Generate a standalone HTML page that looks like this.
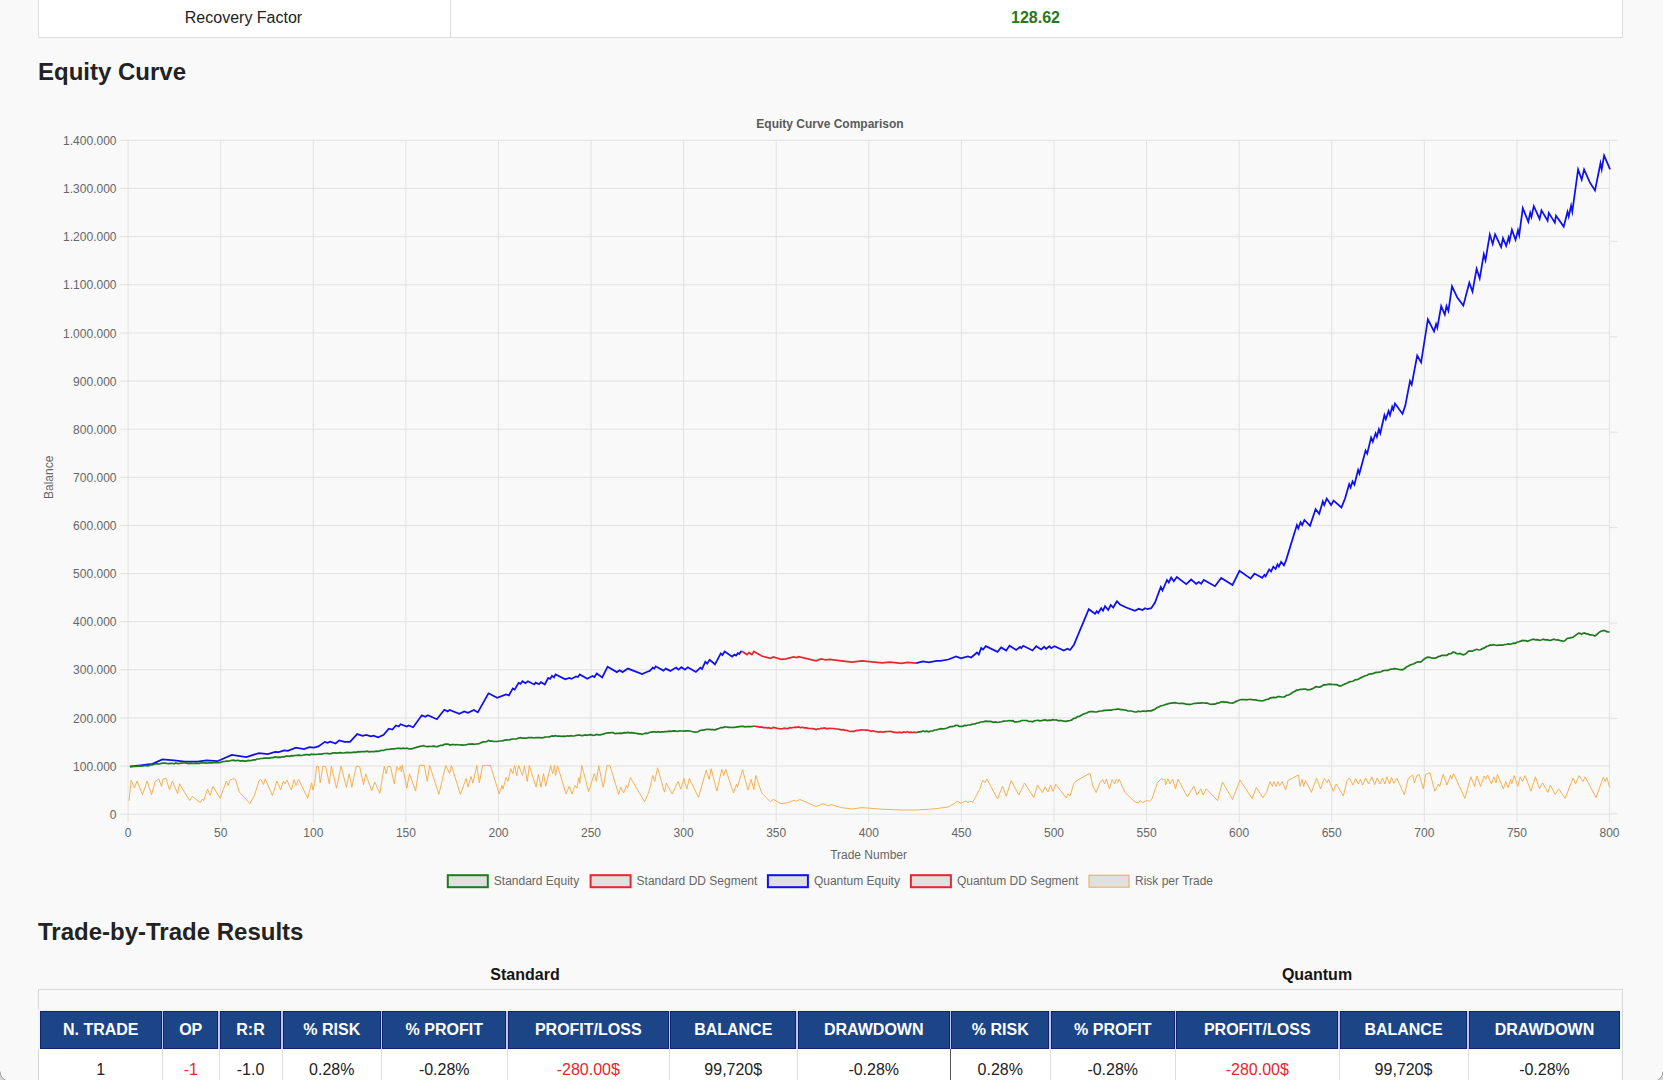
<!DOCTYPE html>
<html><head><meta charset="utf-8"><title>Equity Curve</title>
<style>
html,body{margin:0;padding:0}
body{width:1663px;height:1080px;overflow:hidden;background:#f9f9f9;font-family:"Liberation Sans",sans-serif;color:#222;position:relative}
.abs{position:absolute}
.toptbl{position:absolute;left:37.5px;top:-10px;width:1585px;height:47.5px;background:#fff;border:1px solid #ddd;box-sizing:border-box}
.toptbl .div{position:absolute;left:411px;top:0;width:1px;height:100%;background:#ddd}
.c1{position:absolute;left:38px;width:411px;top:9px;text-align:center;font-size:16px;line-height:18px;color:#222}
.c2{position:absolute;left:449px;width:1173px;top:9px;text-align:center;font-size:16px;line-height:18px;font-weight:bold;color:#1f7a1f}
h2{position:absolute;margin:0;left:38px;font-size:24px;line-height:28px;font-weight:bold;color:#222;white-space:nowrap}
.chart{position:absolute;left:0;top:0}
.lab{position:absolute;font-size:16px;line-height:18px;font-weight:bold;color:#151515;text-align:center;width:200px}
.cont{position:absolute;left:37.5px;top:988.5px;width:1585px;height:120px;border:1.5px solid #d8d8d8;box-sizing:border-box;background:#f9f9f9}
.hdrbg{position:absolute;left:37.5px;top:1008.8px;width:1583.6px;height:40.5px;background:#f3f2fd}
.th{position:absolute;top:1011.2px;height:37.4px;background:#1c4587;border:1px solid #10246b;box-sizing:border-box;color:#fff;font-weight:bold;font-size:16px;line-height:35.8px;text-align:center;white-space:nowrap}
.hs{position:absolute;top:1011.2px;height:37.4px;width:1.6px;background:#c0c5f3}
.rowbg{position:absolute;left:39px;top:1049px;width:1582px;height:40px;background:#fff}
.td{position:absolute;top:1049px;height:40px;font-size:16px;line-height:41px;text-align:center;color:#222;white-space:nowrap}
.td.red{color:#e8262e}
.vb{position:absolute;top:1049px;height:40px}
</style></head><body>
<div class="toptbl"><div class="div"></div></div>
<div class="c1">Recovery Factor</div><div class="c2">128.62</div>
<h2 style="top:58px">Equity Curve</h2>
<svg class="chart" width="1663" height="1080" viewBox="0 0 1663 1080" font-family="Liberation Sans, sans-serif" font-size="12" fill="#666"><path d="M120.1,814.20H1609.5M120.1,766.07H1609.5M120.1,717.94H1609.5M120.1,669.81H1609.5M120.1,621.69H1609.5M120.1,573.56H1609.5M120.1,525.43H1609.5M120.1,477.30H1609.5M120.1,429.17H1609.5M120.1,381.04H1609.5M120.1,332.91H1609.5M120.1,284.79H1609.5M120.1,236.66H1609.5M120.1,188.53H1609.5M120.1,140.40H1609.5M128.10,140.4V822.2M220.69,140.4V822.2M313.27,140.4V822.2M405.86,140.4V822.2M498.45,140.4V822.2M591.04,140.4V822.2M683.62,140.4V822.2M776.21,140.4V822.2M868.80,140.4V822.2M961.39,140.4V822.2M1053.97,140.4V822.2M1146.56,140.4V822.2M1239.15,140.4V822.2M1331.74,140.4V822.2M1424.32,140.4V822.2M1516.91,140.4V822.2M1609.50,140.4V822.2M1609.50,140.4V814.2M1609.5,813.80h8M1609.5,718.40h8M1609.5,623.00h8M1609.5,527.60h8M1609.5,432.20h8M1609.5,336.80h8M1609.5,241.40h8M1609.5,140.40h8" stroke="#e2e2e2" stroke-width="1" fill="none"/><text x="116.5" y="818.8" text-anchor="end">0</text><text x="116.5" y="770.7" text-anchor="end">100.000</text><text x="116.5" y="722.5" text-anchor="end">200.000</text><text x="116.5" y="674.4" text-anchor="end">300.000</text><text x="116.5" y="626.3" text-anchor="end">400.000</text><text x="116.5" y="578.2" text-anchor="end">500.000</text><text x="116.5" y="530.0" text-anchor="end">600.000</text><text x="116.5" y="481.9" text-anchor="end">700.000</text><text x="116.5" y="433.8" text-anchor="end">800.000</text><text x="116.5" y="385.6" text-anchor="end">900.000</text><text x="116.5" y="337.5" text-anchor="end">1.000.000</text><text x="116.5" y="289.4" text-anchor="end">1.100.000</text><text x="116.5" y="241.3" text-anchor="end">1.200.000</text><text x="116.5" y="193.1" text-anchor="end">1.300.000</text><text x="116.5" y="145.0" text-anchor="end">1.400.000</text><text x="128.1" y="837.2" text-anchor="middle">0</text><text x="220.7" y="837.2" text-anchor="middle">50</text><text x="313.3" y="837.2" text-anchor="middle">100</text><text x="405.9" y="837.2" text-anchor="middle">150</text><text x="498.5" y="837.2" text-anchor="middle">200</text><text x="591.0" y="837.2" text-anchor="middle">250</text><text x="683.6" y="837.2" text-anchor="middle">300</text><text x="776.2" y="837.2" text-anchor="middle">350</text><text x="868.8" y="837.2" text-anchor="middle">400</text><text x="961.4" y="837.2" text-anchor="middle">450</text><text x="1054.0" y="837.2" text-anchor="middle">500</text><text x="1146.6" y="837.2" text-anchor="middle">550</text><text x="1239.1" y="837.2" text-anchor="middle">600</text><text x="1331.7" y="837.2" text-anchor="middle">650</text><text x="1424.3" y="837.2" text-anchor="middle">700</text><text x="1516.9" y="837.2" text-anchor="middle">750</text><text x="1609.5" y="837.2" text-anchor="middle">800</text><text x="868.6" y="858.8" text-anchor="middle">Trade Number</text><text transform="translate(53,477.3) rotate(-90)" text-anchor="middle">Balance</text><text x="830" y="127.9" text-anchor="middle" font-weight="bold" fill="#5a5a5a">Equity Curve Comparison</text><path d="M129.0,800.9 L131.2,780.1 L134.4,787.9 L137.1,781.0 L142.5,794.6 L147.1,781.0 L151.6,794.6 L155.2,781.4 L158.8,778.9 L161.5,786.4 L162.9,779.2 L166.0,778.3 L169.6,790.0 L172.3,781.0 L177.7,793.7 L179.5,783.7 L182.2,788.2 L189.5,800.5 L192.2,796.4 L200.3,802.7 L202.1,799.1 L203.9,800.5 L207.5,789.1 L210.2,795.5 L212.9,786.4 L220.1,798.2 L226.4,781.0 L228.2,785.5 L230.0,780.1 L232.7,778.9 L235.5,779.2 L239.1,791.8 L249.9,803.6 L254.4,795.5 L258.9,781.0 L260.7,779.2 L263.4,784.6 L265.2,778.9 L272.4,795.5 L276.9,781.0 L280.6,790.0 L283.3,781.0 L285.1,783.7 L286.9,780.1 L291.4,790.0 L294.1,779.6 L295.9,785.5 L298.6,779.2 L307.6,798.2 L311.6,782.8 L313.0,790.0 L314.8,782.8 L316.6,766.2 L318.4,766.6 L320.2,782.8 L322.9,766.2 L325.7,766.6 L329.3,783.7 L331.4,766.2 L336.5,788.2 L341.0,766.2 L346.4,787.3 L349.1,773.8 L351.8,787.3 L356.3,766.2 L359.6,766.6 L363.5,784.6 L365.7,773.8 L371.7,790.9 L374.7,781.9 L379.8,793.3 L384.3,766.2 L386.1,773.8 L387.9,766.2 L390.6,766.6 L394.2,783.7 L396.9,766.6 L398.7,770.2 L400.5,766.2 L401.4,772.0 L402.3,764.8 L406.8,788.2 L409.5,773.8 L415.6,791.1 L419.4,765.4 L424.3,765.4 L427.2,781.4 L429.6,765.4 L438.9,794.4 L445.7,765.4 L449.6,773.6 L451.5,765.4 L460.3,794.4 L466.1,778.5 L468.0,787.2 L471.0,776.5 L472.9,783.3 L476.8,765.4 L479.3,782.9 L482.6,765.4 L490.4,765.4 L499.2,794.0 L502.1,785.3 L503.0,789.2 L506.0,777.5 L507.9,781.4 L510.8,768.7 L512.8,773.6 L514.7,765.4 L516.7,775.5 L518.6,765.4 L522.5,775.5 L524.4,765.8 L527.3,781.4 L529.3,765.4 L536.1,787.2 L538.4,774.6 L541.0,787.2 L543.5,773.6 L545.8,786.2 L550.7,765.4 L552.6,773.6 L554.6,765.4 L555.5,775.5 L557.5,765.8 L566.2,794.0 L569.2,786.2 L572.1,794.0 L575.0,785.3 L576.9,788.2 L578.9,777.5 L579.8,783.3 L581.8,765.4 L588.6,791.5 L594.4,773.6 L596.4,781.4 L598.7,765.8 L603.2,787.2 L607.1,765.4 L610.0,765.8 L618.7,794.4 L620.7,787.2 L623.6,793.0 L626.5,785.3 L627.5,788.2 L630.4,777.5 L644.6,801.8 L648.9,792.1 L652.8,775.5 L654.7,781.4 L657.6,767.8 L664.4,792.1 L666.4,783.3 L672.2,794.0 L678.0,781.4 L680.9,789.2 L683.9,778.5 L686.8,789.2 L689.3,778.5 L698.5,797.3 L706.2,770.1 L709.2,779.4 L711.1,768.7 L716.9,791.1 L721.8,769.3 L723.7,775.5 L725.7,769.3 L733.5,793.0 L736.4,784.3 L737.4,787.2 L742.6,769.7 L748.0,790.1 L751.0,779.4 L753.9,789.5 L755.8,775.5 L761.7,793.0 L770.4,801.8 L773.3,799.3 L781.1,803.7 L786.0,803.1 L788.9,802.4 L793.7,800.4 L796.7,801.2 L799.6,799.3 L816.1,806.6 L822.9,803.7 L827.8,805.7 L831.7,804.7 L841.4,807.6 L852.1,809.0 L861.8,807.6 L882.2,809.2 L901.6,810.0 L916.2,810.0 L932.8,809.0 L948.3,807.0 L954.1,803.7 L957.1,801.2 L960.9,803.1 L965.8,800.8 L967.8,802.4 L971.2,801.2 L972.5,802.5 L980.0,788.8 L982.5,780.5 L985.0,782.5 L987.0,779.2 L997.5,798.8 L1002.5,786.2 L1006.2,796.2 L1011.2,780.5 L1018.8,795.0 L1024.5,783.0 L1033.8,797.5 L1037.5,785.0 L1042.5,792.5 L1045.0,787.0 L1048.0,792.0 L1050.5,785.0 L1053.0,791.2 L1055.8,784.2 L1066.2,798.0 L1068.0,793.8 L1070.0,796.2 L1073.8,783.8 L1075.8,781.2 L1090.0,773.2 L1092.5,785.0 L1096.2,792.5 L1100.0,782.5 L1102.5,779.5 L1104.5,783.8 L1106.2,779.2 L1109.5,788.8 L1112.0,779.5 L1114.5,783.8 L1116.2,779.2 L1118.0,782.5 L1119.2,779.2 L1125.0,792.5 L1135.0,802.0 L1138.8,803.0 L1140.0,800.5 L1142.5,802.5 L1147.5,800.5 L1149.5,801.2 L1152.0,798.8 L1157.5,782.5 L1161.2,778.8 L1165.0,779.5 L1165.5,785.0 L1168.0,778.8 L1170.0,783.8 L1172.5,779.2 L1175.5,788.8 L1178.0,779.2 L1187.5,797.0 L1193.8,786.2 L1197.0,795.0 L1200.8,788.8 L1203.0,795.0 L1206.2,788.8 L1217.5,800.5 L1222.5,782.0 L1232.5,799.5 L1240.0,780.0 L1252.0,798.4 L1256.4,787.6 L1262.9,797.7 L1266.5,792.4 L1270.1,781.6 L1272.5,786.4 L1273.7,781.6 L1276.1,786.4 L1278.0,781.6 L1279.7,785.7 L1282.1,781.6 L1285.7,790.0 L1288.1,780.4 L1298.4,774.9 L1300.1,786.4 L1302.1,779.2 L1303.7,786.4 L1305.4,780.4 L1311.4,792.4 L1316.5,778.0 L1320.6,788.8 L1324.2,778.5 L1327.1,782.8 L1328.5,779.2 L1333.3,791.2 L1336.2,784.0 L1343.4,796.0 L1347.0,780.4 L1349.4,778.0 L1353.0,785.2 L1355.5,778.5 L1358.3,784.0 L1360.3,779.2 L1362.7,785.2 L1365.6,778.0 L1368.7,784.0 L1371.8,776.8 L1374.7,784.7 L1377.1,778.0 L1380.0,784.0 L1382.4,778.0 L1385.0,784.0 L1386.7,776.8 L1389.6,784.0 L1391.5,777.5 L1393.9,783.3 L1396.8,778.0 L1404.3,794.8 L1408.4,778.0 L1412.7,775.1 L1414.4,782.8 L1416.8,775.6 L1419.2,774.4 L1423.3,788.8 L1425.7,774.4 L1430.0,772.7 L1434.8,791.2 L1438.4,784.0 L1439.6,786.4 L1443.2,774.4 L1446.9,785.2 L1450.5,775.1 L1451.7,779.2 L1453.6,773.7 L1464.9,798.4 L1470.9,776.8 L1474.5,786.4 L1476.9,776.1 L1480.5,786.4 L1484.1,776.1 L1485.8,779.2 L1487.7,775.1 L1491.4,784.0 L1493.8,776.8 L1496.2,782.8 L1497.4,774.4 L1503.4,788.8 L1505.8,781.6 L1508.2,787.6 L1510.6,779.2 L1511.8,784.0 L1514.2,775.6 L1517.8,786.4 L1520.2,776.8 L1522.6,781.6 L1525.0,775.6 L1531.0,791.2 L1535.4,776.8 L1539.5,788.8 L1542.6,782.8 L1547.9,792.4 L1550.3,785.2 L1555.1,794.3 L1558.7,788.8 L1565.2,798.4 L1573.1,778.0 L1575.5,784.0 L1579.1,775.6 L1582.8,781.6 L1585.2,776.8 L1596.0,797.7 L1603.2,777.3 L1605.1,781.6 L1606.8,777.5 L1609.7,787.6" stroke="#f6a83e" stroke-width="0.9" fill="none" stroke-linejoin="miter" stroke-miterlimit="10" stroke-linecap="butt"/><path d="M129.9,766.6 L152.5,763.9 L162.4,759.4 L174.1,760.3 L184.9,761.5 L197.6,761.5 L206.6,760.3 L217.4,761.2 L231.8,754.9 L246.3,757.2 L258.9,753.1 L267.9,754.0 L275.1,751.8 L278.7,752.2 L284.2,750.4 L287.8,750.9 L295.9,747.6 L304.0,749.1 L309.4,747.1 L313.9,747.6 L318.4,746.4 L324.8,741.9 L327.5,742.8 L330.2,741.7 L335.6,743.5 L339.2,740.4 L344.6,741.9 L350.0,741.9 L357.2,734.1 L362.6,735.9 L366.2,735.0 L370.8,736.3 L373.5,735.6 L378.0,737.4 L383.4,735.0 L388.8,728.7 L392.4,729.6 L396.0,725.5 L398.7,726.5 L400.5,724.2 L406.8,726.5 L408.6,725.5 L413.2,727.3 L421.8,715.3 L425.3,716.8 L427.8,715.3 L436.9,719.2 L444.3,709.8 L447.6,711.4 L449.6,710.0 L459.3,713.9 L464.2,711.4 L468.0,712.9 L473.9,710.0 L477.8,712.4 L488.5,693.3 L497.2,697.8 L506.0,694.5 L508.9,695.4 L512.8,688.4 L514.7,689.6 L518.6,682.8 L520.5,683.8 L522.5,681.2 L525.4,683.2 L527.9,681.2 L534.2,684.5 L535.7,682.6 L539.0,684.2 L541.0,682.2 L544.8,684.5 L548.2,677.9 L550.1,678.9 L552.0,675.8 L554.0,677.4 L555.5,674.4 L565.3,679.3 L569.2,677.9 L571.5,678.9 L576.0,676.4 L577.9,677.0 L579.8,674.4 L587.2,678.7 L592.5,676.0 L594.4,677.0 L596.8,673.5 L602.2,677.4 L607.6,666.7 L616.8,672.1 L619.7,670.2 L622.6,672.1 L627.9,668.6 L642.1,674.1 L647.9,671.5 L649.8,670.9 L652.8,667.6 L654.3,668.6 L655.7,666.3 L663.4,670.6 L665.8,668.6 L670.3,670.9 L676.1,667.6 L678.4,669.6 L681.5,667.2 L684.8,669.6 L687.8,667.2 L695.9,671.9 L700.4,667.6 L702.0,669.0 L705.3,661.8 L707.2,663.7 L709.6,659.9 L715.0,664.3 L720.8,653.4 L722.4,655.0 L724.7,651.5 L732.1,656.6 L734.4,654.6 L736.0,655.6 L737.9,653.1 L739.3,654.0 L741.2,651.1" stroke="#1010ee" stroke-width="1.75" fill="none" stroke-linejoin="miter" stroke-miterlimit="10" stroke-linecap="butt"/><path d="M916.2,663.2 L923.0,661.4 L928.9,662.4 L936.6,660.8 L940.5,660.8 L948.3,659.5 L956.1,656.4 L960.9,658.3 L967.8,656.4 L971.2,657.5 L977.0,652.5 L978.8,654.5 L981.2,648.0 L983.0,649.5 L985.8,646.2 L997.5,651.8 L1001.2,647.5 L1006.2,650.5 L1009.5,645.8 L1016.2,650.0 L1020.0,647.0 L1021.2,648.2 L1023.2,645.8 L1032.5,650.5 L1036.2,646.2 L1041.2,649.5 L1044.2,646.8 L1046.2,648.8 L1049.5,646.2 L1051.2,648.2 L1054.5,646.2 L1063.8,650.5 L1067.5,648.8 L1070.0,650.0 L1073.8,645.0 L1088.8,609.2 L1095.0,613.8 L1096.8,611.2 L1098.2,613.0 L1101.2,608.2 L1103.0,610.8 L1105.0,606.2 L1108.2,610.0 L1110.8,605.0 L1113.2,607.5 L1117.0,601.2 L1120.0,604.5 L1126.2,607.5 L1135.0,610.8 L1138.8,608.8 L1142.5,610.0 L1145.0,608.2 L1147.5,609.2 L1151.2,608.2 L1155.0,602.5 L1160.8,587.0 L1162.5,590.5 L1167.0,580.0 L1168.8,582.5 L1171.2,577.5 L1173.8,581.2 L1176.8,577.0 L1186.2,584.2 L1191.2,579.5 L1196.2,583.8 L1198.8,582.0 L1201.2,583.8 L1203.8,580.0 L1215.0,586.2 L1221.2,578.0 L1232.5,585.0 L1239.5,570.8 L1250.6,578.6 L1254.4,573.6 L1262.2,577.8 L1264.4,575.0 L1265.6,576.4 L1269.2,569.4 L1271.1,571.4 L1273.3,566.7 L1275.6,568.9 L1277.5,564.4 L1278.9,566.7 L1281.1,561.9 L1283.9,565.3 L1285.8,561.1 L1296.9,525.0 L1298.3,528.3 L1300.6,522.2 L1302.2,525.0 L1304.4,520.0 L1310.0,525.8 L1315.6,509.2 L1319.2,513.9 L1322.8,501.4 L1324.2,505.0 L1326.7,498.6 L1331.1,505.0 L1333.6,500.6 L1341.4,507.5 L1345.0,498.6 L1349.2,484.2 L1350.6,487.5 L1352.5,481.4 L1354.4,484.7 L1358.1,470.0 L1359.4,473.6 L1365.6,450.6 L1367.2,453.6 L1371.1,437.5 L1372.8,441.7 L1375.6,433.3 L1376.9,436.9 L1378.9,429.2 L1380.3,433.3 L1384.4,415.3 L1385.8,419.4 L1388.6,411.1 L1390.0,415.3 L1392.2,406.9 L1393.3,409.7 L1395.0,403.6 L1402.5,413.9 L1405.3,405.6 L1410.0,381.1 L1411.7,384.7 L1417.2,355.6 L1421.1,362.5 L1427.9,319.3 L1434.0,331.3 L1436.1,324.1 L1437.3,327.7 L1441.2,306.1 L1444.8,314.5 L1446.5,306.1 L1448.4,310.9 L1452.0,286.3 L1457.3,297.6 L1463.3,305.6 L1469.3,282.7 L1472.5,291.6 L1476.6,268.8 L1479.7,278.4 L1483.8,254.3 L1485.5,260.3 L1489.8,234.6 L1492.7,244.0 L1495.1,234.3 L1501.1,247.1 L1503.0,238.2 L1506.2,245.9 L1508.6,237.5 L1509.5,241.1 L1511.9,229.8 L1515.5,239.9 L1518.0,230.3 L1519.2,235.1 L1522.8,208.1 L1528.3,221.8 L1530.2,212.9 L1531.4,217.0 L1533.8,206.2 L1539.6,218.9 L1541.5,210.3 L1547.6,220.6 L1548.8,212.9 L1554.8,222.6 L1556.0,215.8 L1563.7,226.6 L1567.5,211.7 L1568.7,216.5 L1571.1,205.7 L1572.3,211.7 L1578.1,169.4 L1581.7,179.7 L1584.1,169.4 L1589.7,182.1 L1595.0,190.5 L1600.5,163.3 L1601.7,169.4 L1604.1,155.6 L1610.1,169.4" stroke="#1010ee" stroke-width="1.75" fill="none" stroke-linejoin="miter" stroke-miterlimit="10" stroke-linecap="butt"/><path d="M741.2,651.1 L747.1,654.6 L749.0,652.7 L751.9,654.6 L753.9,651.5 L761.7,656.0 L770.4,658.3 L773.3,656.9 L781.1,659.3 L786.0,658.9 L793.7,656.9 L796.7,657.5 L798.6,656.6 L816.1,660.8 L821.0,658.9 L825.8,659.9 L829.7,659.3 L841.4,660.8 L852.1,662.2 L861.8,660.8 L882.2,662.8 L890.0,662.2 L901.6,663.4 L907.5,662.4 L916.2,663.2" stroke="#e8262e" stroke-width="1.75" fill="none" stroke-linejoin="miter" stroke-miterlimit="10" stroke-linecap="butt"/><path d="M129.9,766.6 L132.0,766.3 L134.0,766.1 L136.0,766.5 L138.0,766.2 L139.8,765.8 L141.6,766.1 L143.5,765.9 L145.3,765.5 L147.1,765.9 L148.9,765.6 L150.7,764.8 L152.5,764.9 L154.3,764.2 L156.1,763.9 L157.9,763.9 L159.7,764.0 L161.5,763.3 L163.3,763.0 L165.1,763.1 L166.9,763.5 L168.7,763.7 L170.5,763.4 L172.3,763.3 L174.1,763.8 L175.9,762.9 L177.7,763.7 L179.5,763.3 L181.3,763.2 L183.1,763.0 L184.9,763.0 L186.7,763.2 L188.6,763.6 L190.4,763.1 L192.2,763.4 L194.0,763.5 L195.8,763.2 L197.6,763.3 L199.4,763.3 L201.2,762.8 L203.0,762.8 L204.8,762.8 L206.6,763.2 L208.4,762.9 L210.2,762.7 L212.0,762.9 L213.8,762.7 L215.6,762.5 L217.4,762.6 L219.2,762.6 L221.0,762.2 L222.8,761.5 L224.6,761.5 L226.4,761.2 L228.2,761.2 L230.0,760.8 L231.8,760.3 L233.7,760.2 L235.5,760.9 L237.3,760.3 L239.1,760.7 L240.9,761.1 L242.7,760.6 L244.5,761.1 L246.3,761.2 L248.1,760.4 L249.9,760.7 L251.7,760.4 L253.5,759.9 L255.3,759.8 L257.1,759.0 L258.9,759.0 L260.7,758.5 L262.5,758.4 L264.3,758.2 L266.1,758.0 L267.9,758.2 L269.7,758.1 L271.5,757.5 L273.3,757.6 L275.1,756.9 L276.9,757.3 L278.7,757.1 L280.6,757.3 L282.4,756.7 L284.2,756.8 L286.0,756.2 L287.8,756.2 L289.6,756.3 L291.4,755.6 L293.2,755.9 L295.0,755.5 L296.8,755.3 L298.6,755.1 L300.4,755.4 L302.2,755.5 L304.0,754.8 L305.8,754.7 L307.6,754.7 L309.4,755.0 L311.2,754.2 L313.0,754.3 L314.8,754.3 L316.6,754.5 L318.4,754.0 L320.2,754.2 L322.0,754.1 L323.8,753.5 L325.7,753.5 L327.5,753.4 L329.3,753.8 L331.1,753.7 L332.9,752.9 L334.7,752.9 L336.5,753.1 L338.3,752.8 L340.1,752.7 L341.9,752.9 L343.7,753.0 L345.5,752.6 L347.3,752.3 L349.1,752.7 L350.9,752.7 L352.7,752.3 L354.5,752.2 L356.3,752.3 L358.1,751.6 L359.9,751.8 L361.7,751.6 L363.5,751.6 L365.3,751.6 L367.1,751.1 L368.9,751.8 L370.8,751.6 L372.6,751.7 L374.4,751.6 L376.2,751.2 L378.0,751.3 L379.8,750.9 L381.6,750.3 L383.4,750.5 L385.2,749.7 L387.0,749.4 L388.8,749.5 L390.6,749.1 L392.4,748.9 L394.2,748.9 L396.0,748.5 L397.8,748.4 L399.6,748.4 L401.4,748.6 L403.3,748.2 L405.2,748.5 L407.0,748.2 L408.9,749.0 L410.8,748.8 L412.6,748.7 L414.5,747.8 L416.3,747.4 L418.1,746.9 L419.9,746.4 L421.8,746.0 L423.7,745.7 L425.6,746.5 L427.5,746.7 L429.4,746.3 L431.3,746.5 L433.1,746.2 L435.0,746.3 L436.9,746.8 L438.8,746.0 L440.6,745.4 L442.5,745.3 L444.3,744.4 L446.2,744.2 L448.1,744.1 L449.9,745.1 L451.8,744.7 L453.7,744.5 L455.6,744.9 L457.4,744.5 L459.3,745.0 L461.1,744.9 L463.0,745.2 L464.8,745.0 L466.7,744.7 L468.5,744.2 L470.4,744.2 L472.2,743.9 L474.1,744.3 L475.9,744.0 L477.8,743.8 L479.6,743.5 L481.3,742.6 L483.1,741.9 L484.9,741.9 L486.7,741.5 L488.5,740.5 L490.2,741.1 L492.0,741.2 L493.7,741.4 L495.5,741.5 L497.2,741.5 L499.2,741.0 L501.1,741.0 L503.0,740.6 L505.0,740.1 L506.9,739.8 L508.9,740.0 L510.8,739.4 L512.8,739.0 L514.7,739.0 L516.7,738.8 L518.6,738.0 L520.5,737.6 L522.5,738.1 L524.4,738.2 L526.4,738.2 L528.3,737.7 L530.3,737.7 L532.2,737.7 L534.2,738.0 L535.9,737.6 L537.7,737.5 L539.5,737.7 L541.3,737.9 L543.1,737.7 L544.8,737.2 L546.6,737.0 L548.4,736.9 L550.2,736.7 L552.0,735.8 L553.8,736.1 L555.5,735.7 L557.5,736.2 L559.4,736.2 L561.4,736.3 L563.3,736.1 L565.3,736.3 L567.1,735.8 L568.9,736.2 L570.7,735.7 L572.6,736.0 L574.4,736.0 L576.2,735.3 L578.0,735.2 L579.8,735.1 L581.7,735.6 L583.5,735.4 L585.4,734.9 L587.2,735.3 L589.1,734.8 L591.0,734.7 L592.8,735.3 L594.7,735.1 L596.6,734.4 L598.5,734.9 L600.3,734.9 L602.2,734.3 L604.0,733.9 L605.8,733.2 L607.6,732.8 L609.5,732.9 L611.3,732.7 L613.1,732.7 L615.0,733.7 L616.8,733.4 L618.6,733.3 L620.5,733.1 L622.3,733.3 L624.2,732.6 L626.0,732.9 L627.9,732.4 L629.6,732.9 L631.4,732.6 L633.2,732.9 L635.0,733.2 L636.7,733.4 L638.5,733.9 L640.3,733.9 L642.1,734.3 L643.8,733.8 L645.6,733.1 L647.4,733.4 L649.2,732.5 L651.0,732.2 L652.8,731.8 L654.5,731.9 L656.3,732.2 L658.1,731.7 L659.9,732.2 L661.7,731.8 L663.4,731.8 L665.3,731.7 L667.1,731.6 L668.9,731.1 L670.7,731.4 L672.5,731.1 L674.3,730.8 L676.1,731.2 L678.0,731.4 L680.0,730.8 L681.9,731.0 L683.9,731.2 L685.8,730.9 L687.8,730.8 L689.8,731.0 L691.8,731.5 L693.9,731.9 L695.9,732.2 L698.0,731.8 L700.0,730.5 L702.0,730.2 L703.8,730.1 L705.6,729.5 L707.4,729.3 L709.2,729.3 L711.1,729.7 L713.1,729.7 L715.0,729.9 L716.9,729.1 L718.9,728.5 L720.8,727.5 L722.8,727.6 L724.7,726.9 L726.6,727.0 L728.4,727.3 L730.3,727.4 L732.1,727.5 L733.9,727.3 L735.8,727.2 L737.6,726.8 L739.4,726.6 L741.2,726.4 L743.2,726.4 L745.1,726.9 L747.1,726.5 L748.8,726.6 L750.5,726.6 L752.2,726.5 L753.9,726.0" stroke="#1f7a1f" stroke-width="1.7" fill="none" stroke-linejoin="miter" stroke-miterlimit="10" stroke-linecap="butt"/><path d="M916.2,732.8 L917.9,732.1 L919.6,731.8 L921.3,731.7 L923.0,730.8 L925.0,731.5 L926.9,731.1 L928.9,731.8 L930.8,731.0 L932.8,730.8 L934.7,730.0 L936.6,729.9 L938.6,729.2 L940.5,728.7 L942.5,728.8 L944.4,728.6 L946.4,728.3 L948.3,727.5 L950.3,726.7 L952.2,726.6 L954.1,726.1 L956.1,725.4 L957.7,725.4 L959.3,726.4 L960.9,726.4 L962.6,726.4 L964.3,725.4 L966.0,725.7 L967.8,725.0 L970.0,725.0 L971.8,724.4 L973.5,724.0 L975.2,723.9 L977.0,723.0 L978.8,722.9 L980.5,722.0 L982.2,721.9 L984.0,721.6 L985.8,721.2 L987.7,721.3 L989.7,721.4 L991.6,721.7 L993.6,722.3 L995.5,721.9 L997.5,722.5 L999.5,722.2 L1001.5,721.8 L1003.5,721.1 L1005.5,721.0 L1007.5,720.9 L1009.5,720.5 L1011.2,720.8 L1012.9,720.7 L1014.6,721.9 L1016.2,721.8 L1018.0,721.7 L1019.8,721.5 L1021.5,720.5 L1023.2,720.5 L1025.1,720.5 L1027.0,720.6 L1028.8,721.5 L1030.7,721.3 L1032.5,721.8 L1034.4,720.8 L1036.2,720.5 L1038.1,720.4 L1039.9,720.8 L1041.7,720.6 L1043.5,720.1 L1045.4,719.9 L1047.2,720.6 L1049.0,720.2 L1050.8,720.3 L1052.7,719.7 L1054.5,720.0 L1056.3,719.9 L1058.2,720.7 L1060.0,720.7 L1061.9,720.6 L1063.8,721.2 L1065.8,721.4 L1067.9,720.9 L1070.0,720.5 L1071.9,719.9 L1073.8,718.4 L1075.6,718.2 L1077.5,716.6 L1079.4,716.5 L1081.2,715.2 L1083.1,714.2 L1085.0,713.5 L1086.9,713.0 L1088.8,711.8 L1090.8,711.6 L1092.9,711.6 L1095.0,712.0 L1096.8,711.8 L1098.7,711.3 L1100.5,711.0 L1102.3,710.8 L1104.2,710.4 L1106.0,710.4 L1107.8,710.2 L1109.7,710.0 L1111.5,710.2 L1113.3,709.5 L1115.2,709.5 L1117.0,709.2 L1118.8,709.2 L1120.6,709.6 L1122.4,709.6 L1124.2,710.0 L1126.0,710.1 L1127.8,711.0 L1129.6,711.0 L1131.4,711.0 L1133.2,711.5 L1135.0,711.8 L1136.8,712.0 L1138.6,711.2 L1140.4,711.7 L1142.2,711.2 L1144.0,711.2 L1145.8,711.4 L1147.6,710.9 L1149.4,710.9 L1151.2,710.8 L1153.2,709.9 L1155.0,709.2 L1157.0,707.6 L1158.8,707.0 L1160.8,705.8 L1162.5,705.5 L1164.2,705.0 L1166.0,704.4 L1167.8,703.9 L1169.5,703.3 L1171.2,703.2 L1173.1,702.8 L1174.9,702.7 L1176.8,703.0 L1178.7,703.5 L1180.5,703.3 L1182.5,703.4 L1184.3,703.6 L1186.2,704.2 L1188.2,704.4 L1190.1,704.3 L1192.1,704.0 L1194.0,703.5 L1196.0,703.3 L1197.9,703.2 L1199.9,703.2 L1201.8,702.8 L1203.8,703.0 L1205.6,703.2 L1207.5,703.2 L1209.4,704.0 L1211.2,704.3 L1213.1,704.1 L1215.0,704.2 L1217.1,703.2 L1219.2,703.0 L1221.2,701.8 L1223.1,701.8 L1225.0,702.1 L1226.9,702.1 L1228.8,702.6 L1230.6,703.0 L1232.5,703.2 L1234.2,702.4 L1236.0,701.4 L1237.8,700.8 L1239.5,700.0 L1241.3,699.5 L1243.1,699.7 L1244.9,699.6 L1246.7,699.8 L1248.5,699.5 L1250.3,699.4 L1252.1,699.7 L1254.0,699.8 L1255.9,699.9 L1257.8,700.5 L1259.7,700.7 L1261.6,701.0 L1263.3,700.7 L1265.0,700.0 L1266.7,699.5 L1268.4,699.1 L1270.1,698.1 L1272.0,697.7 L1273.9,697.4 L1275.8,697.7 L1277.8,696.7 L1279.7,696.7 L1281.3,697.0 L1282.9,697.0 L1284.5,696.9 L1286.5,695.4 L1288.5,695.0 L1290.5,693.9 L1292.5,692.6 L1294.5,691.5 L1296.5,690.2 L1298.3,690.2 L1300.1,689.3 L1301.9,689.3 L1303.7,689.0 L1305.7,689.2 L1307.7,689.8 L1309.8,689.7 L1311.8,688.9 L1313.8,687.9 L1315.8,686.6 L1317.6,686.9 L1319.4,687.1 L1321.0,686.6 L1322.6,685.6 L1324.2,684.7 L1326.0,684.8 L1327.8,684.4 L1329.6,684.2 L1331.4,684.3 L1333.2,684.5 L1335.0,684.7 L1337.0,684.7 L1339.0,685.8 L1341.0,685.9 L1342.7,685.1 L1344.4,684.3 L1346.1,683.5 L1347.8,682.8 L1349.4,681.8 L1351.2,681.5 L1353.0,681.3 L1355.1,679.9 L1357.1,679.7 L1359.1,678.8 L1361.1,677.6 L1363.1,676.7 L1365.1,675.8 L1367.1,675.3 L1369.1,674.1 L1371.1,673.8 L1372.8,673.7 L1374.5,672.9 L1376.1,672.4 L1377.8,672.3 L1379.5,672.2 L1381.1,671.8 L1382.7,670.8 L1384.3,670.5 L1386.1,670.4 L1387.9,670.3 L1389.7,669.5 L1391.5,669.1 L1393.3,668.9 L1395.1,668.6 L1396.9,669.0 L1398.7,669.4 L1400.6,669.6 L1402.4,669.8 L1404.4,668.7 L1406.4,667.0 L1408.4,666.1 L1410.3,665.0 L1412.2,664.2 L1414.1,663.8 L1416.1,662.5 L1418.0,661.8 L1420.4,662.1 L1422.2,660.9 L1424.0,659.2 L1425.8,658.1 L1427.6,657.2 L1429.4,657.3 L1431.2,657.9 L1433.0,658.1 L1434.8,658.2 L1436.6,657.6 L1438.4,656.6 L1440.2,656.1 L1442.0,655.3 L1443.6,655.3 L1445.3,655.3 L1446.9,655.3 L1448.9,653.9 L1450.9,653.6 L1452.9,652.2 L1454.7,652.4 L1456.5,653.5 L1458.3,653.9 L1460.1,653.5 L1461.9,654.4 L1463.7,654.8 L1465.3,653.9 L1466.9,652.9 L1468.5,651.2 L1470.3,651.2 L1472.1,651.2 L1473.7,650.4 L1475.3,649.7 L1476.9,649.3 L1478.7,650.0 L1480.5,649.8 L1482.5,648.6 L1484.4,647.9 L1486.3,646.6 L1488.2,646.0 L1490.2,645.0 L1491.8,645.4 L1493.4,644.6 L1495.0,645.0 L1497.0,645.3 L1499.0,645.1 L1501.0,645.2 L1502.8,645.2 L1504.6,644.5 L1506.4,644.5 L1508.2,643.9 L1510.0,644.3 L1511.8,643.7 L1513.6,643.1 L1515.4,643.3 L1517.2,642.1 L1519.0,641.8 L1520.8,641.1 L1522.6,640.4 L1524.2,640.6 L1525.8,640.7 L1527.4,641.4 L1529.4,640.5 L1531.4,639.8 L1533.4,639.2 L1535.4,639.9 L1537.5,639.6 L1539.5,640.4 L1541.3,640.0 L1543.1,639.2 L1545.1,639.9 L1547.1,639.7 L1549.1,640.4 L1550.7,640.4 L1552.3,639.8 L1553.9,639.2 L1555.8,640.0 L1557.7,639.9 L1559.7,640.4 L1561.6,640.8 L1563.5,641.4 L1565.3,640.4 L1567.1,638.5 L1569.1,638.2 L1571.1,637.6 L1573.1,637.3 L1575.0,635.9 L1576.8,634.4 L1578.7,633.2 L1580.1,633.3 L1581.6,634.2 L1583.0,633.2 L1584.4,633.0 L1586.2,633.8 L1587.9,633.8 L1589.6,634.9 L1591.3,634.8 L1593.1,635.3 L1594.8,636.1 L1596.8,634.5 L1598.8,632.6 L1600.8,631.3 L1602.6,630.8 L1604.4,630.5 L1606.2,631.4 L1607.9,631.9 L1609.7,632.0" stroke="#1f7a1f" stroke-width="1.7" fill="none" stroke-linejoin="miter" stroke-miterlimit="10" stroke-linecap="butt"/><path d="M753.9,726.0 L755.8,726.5 L757.8,726.6 L759.7,727.1 L761.7,726.9 L763.4,727.6 L765.2,727.5 L766.9,727.9 L768.7,727.6 L770.4,728.3 L771.9,728.1 L773.3,727.5 L775.3,727.8 L777.2,728.4 L779.2,728.7 L781.1,728.9 L782.7,728.6 L784.3,728.2 L786.0,728.5 L787.8,728.7 L789.6,727.7 L791.4,727.8 L793.2,727.5 L795.0,727.2 L796.8,727.4 L798.6,726.9 L800.5,727.6 L802.5,727.3 L804.4,727.9 L806.4,727.9 L808.3,728.4 L810.3,728.5 L812.2,728.6 L814.2,728.9 L816.1,729.5 L817.7,728.8 L819.3,729.0 L821.0,728.3 L822.7,728.3 L824.5,728.0 L826.2,728.7 L828.0,728.7 L829.7,728.3 L831.7,728.5 L833.6,728.5 L835.5,728.8 L837.5,729.0 L839.4,729.4 L841.4,729.9 L843.2,729.7 L844.9,730.1 L846.7,730.4 L848.5,731.0 L850.3,731.5 L852.1,731.4 L854.0,731.3 L856.0,730.7 L857.9,730.4 L859.8,730.2 L861.8,729.9 L863.6,730.0 L865.5,730.1 L867.4,730.1 L869.2,730.5 L871.1,731.3 L872.9,730.8 L874.8,731.3 L876.6,731.7 L878.5,732.1 L880.3,731.7 L882.2,732.2 L884.1,731.8 L886.1,731.6 L888.0,731.5 L890.0,731.4 L891.9,731.6 L893.9,732.3 L895.8,732.4 L897.8,732.6 L899.7,732.1 L901.6,732.8 L903.6,732.0 L905.5,732.3 L907.5,731.8 L909.2,732.3 L911.0,732.2 L912.7,732.5 L914.5,732.1 L916.2,732.8" stroke="#e8262e" stroke-width="1.7" fill="none" stroke-linejoin="miter" stroke-miterlimit="10" stroke-linecap="butt"/><rect x="447.8" y="875.2" width="40" height="12" fill="#e0e0e0" stroke="#1f7a1f" stroke-width="2"/><text x="493.8" y="885.3">Standard Equity</text><rect x="590.6" y="875.2" width="40" height="12" fill="#e0e0e0" stroke="#e8262e" stroke-width="2"/><text x="636.6" y="885.3">Standard DD Segment</text><rect x="767.9" y="875.2" width="40" height="12" fill="#e0e0e0" stroke="#1010ee" stroke-width="2"/><text x="813.9" y="885.3">Quantum Equity</text><rect x="910.9" y="875.2" width="40" height="12" fill="#e0e0e0" stroke="#e8262e" stroke-width="2"/><text x="956.9" y="885.3">Quantum DD Segment</text><rect x="1089" y="875.2" width="40" height="12" fill="#e0e0e0" stroke="#f6a83e" stroke-width="1"/><text x="1135" y="885.3">Risk per Trade</text><path d="M1663,1071.5A10,10 0 0 1 1653,1081.5L1663,1081.5Z" fill="#d6d6d6"/><path d="M1663,1071.5A10,10 0 0 1 1653,1081.5" fill="none" stroke="#8c8c8c" stroke-width="0.8"/><path d="M0,1071.5A10,10 0 0 0 10,1081.5L0,1081.5Z" fill="#d6d6d6"/><path d="M0,1071.5A10,10 0 0 0 10,1081.5" fill="none" stroke="#8c8c8c" stroke-width="0.8"/></svg>
<h2 style="top:918px">Trade-by-Trade Results</h2>
<div class="lab" style="left:425px;top:966px">Standard</div>
<div class="lab" style="left:1217px;top:966px">Quantum</div>
<div class="cont"></div>
<div class="hdrbg"></div>
<div class="rowbg"></div>
<div class="th" style="left:39.8px;width:121.9px">N. TRADE</div><div class="th" style="left:163.3px;width:54.9px">OP</div><div class="hs" style="left:161.7px"></div><div class="th" style="left:219.8px;width:61.4px">R:R</div><div class="hs" style="left:218.2px"></div><div class="th" style="left:282.8px;width:97.9px">% RISK</div><div class="hs" style="left:281.2px"></div><div class="th" style="left:382.3px;width:123.9px">% PROFIT</div><div class="hs" style="left:380.7px"></div><div class="th" style="left:507.8px;width:160.9px">PROFIT/LOSS</div><div class="hs" style="left:506.2px"></div><div class="th" style="left:670.3px;width:125.9px">BALANCE</div><div class="hs" style="left:668.7px"></div><div class="th" style="left:797.8px;width:151.9px">DRAWDOWN</div><div class="hs" style="left:796.2px"></div><div class="th" style="left:951.3px;width:97.9px">% RISK</div><div class="hs" style="left:949.7px"></div><div class="th" style="left:1050.8px;width:123.9px">% PROFIT</div><div class="hs" style="left:1049.2px"></div><div class="th" style="left:1176.3px;width:161.9px">PROFIT/LOSS</div><div class="hs" style="left:1174.7px"></div><div class="th" style="left:1339.8px;width:127.4px">BALANCE</div><div class="hs" style="left:1338.2px"></div><div class="th" style="left:1468.8px;width:151.4px">DRAWDOWN</div><div class="hs" style="left:1467.2px"></div>
<div class="td" style="left:39.0px;width:123.5px">1</div><div class="td red" style="left:162.5px;width:56.5px">-1</div><div class="vb" style="left:162.0px;width:1px;background:#ddd"></div><div class="td" style="left:219.0px;width:63.0px">-1.0</div><div class="vb" style="left:218.5px;width:1px;background:#ddd"></div><div class="td" style="left:282.0px;width:99.5px">0.28%</div><div class="vb" style="left:281.5px;width:1px;background:#ddd"></div><div class="td" style="left:381.5px;width:125.5px">-0.28%</div><div class="vb" style="left:381.0px;width:1px;background:#ddd"></div><div class="td red" style="left:507.0px;width:162.5px">-280.00$</div><div class="vb" style="left:506.5px;width:1px;background:#ddd"></div><div class="td" style="left:669.5px;width:127.5px">99,720$</div><div class="vb" style="left:669.0px;width:1px;background:#ddd"></div><div class="td" style="left:797.0px;width:153.5px">-0.28%</div><div class="vb" style="left:796.5px;width:1px;background:#ddd"></div><div class="td" style="left:950.5px;width:99.5px">0.28%</div><div class="vb" style="left:949.7px;width:1.6px;background:#555"></div><div class="td" style="left:1050.0px;width:125.5px">-0.28%</div><div class="vb" style="left:1049.5px;width:1px;background:#ddd"></div><div class="td red" style="left:1175.5px;width:163.5px">-280.00$</div><div class="vb" style="left:1175.0px;width:1px;background:#ddd"></div><div class="td" style="left:1339.0px;width:129.0px">99,720$</div><div class="vb" style="left:1338.5px;width:1px;background:#ddd"></div><div class="td" style="left:1468.0px;width:153.0px">-0.28%</div><div class="vb" style="left:1467.5px;width:1px;background:#ddd"></div>
</body></html>
